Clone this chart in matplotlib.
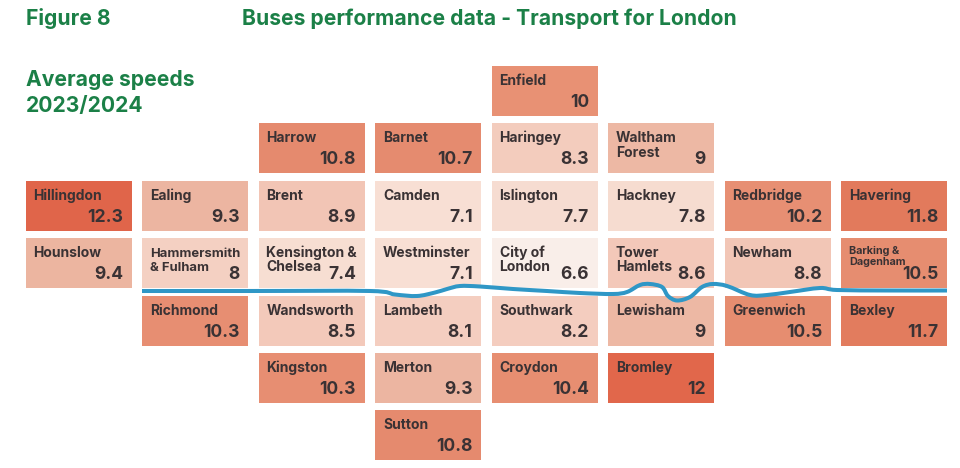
# -*- coding: utf-8 -*-
"""Tile map of average bus speeds by London borough, 2023/2024"""

import matplotlib
matplotlib.use('Agg')
import matplotlib.pyplot as plt
from matplotlib.colors import LinearSegmentedColormap, Normalize
from matplotlib.patches import PathPatch, Rectangle
from matplotlib.path import Path

plt.rcParams['font.family'] = ['Inter', 'DejaVu Sans']

# ============================================================
# Data - one list per row of the tile grid, None = empty tile
# ============================================================
row_0_names = [None, None, None, None, 'Enfield', None, None, None]
row_1_names = [None, None, 'Harrow', 'Barnet', 'Haringey', 'Waltham\nForest', None, None]
row_2_names = ['Hillingdon', 'Ealing', 'Brent', 'Camden', 'Islington', 'Hackney', 'Redbridge', 'Havering']
row_3_names = ['Hounslow', 'Hammersmith\n& Fulham', 'Kensington &\nChelsea', 'Westminster',
               'City of\nLondon', 'Tower\nHamlets', 'Newham', 'Barking &\nDagenham']
row_4_names = [None, 'Richmond', 'Wandsworth', 'Lambeth', 'Southwark', 'Lewisham', 'Greenwich', 'Bexley']
row_5_names = [None, None, 'Kingston', 'Merton', 'Croydon', 'Bromley', None, None]
row_6_names = [None, None, None, 'Sutton', None, None, None, None]

row_0_speeds = [None, None, None, None, 10, None, None, None]
row_1_speeds = [None, None, 10.8, 10.7, 8.3, 9, None, None]
row_2_speeds = [12.3, 9.3, 8.9, 7.1, 7.7, 7.8, 10.2, 11.8]
row_3_speeds = [9.4, 8, 7.4, 7.1, 6.6, 8.6, 8.8, 10.5]
row_4_speeds = [None, 10.3, 8.5, 8.1, 8.2, 9, 10.5, 11.7]
row_5_speeds = [None, None, 10.3, 9.3, 10.4, 12, None, None]
row_6_speeds = [None, None, None, 10.8, None, None, None, None]

all_names = [row_0_names, row_1_names, row_2_names, row_3_names, row_4_names, row_5_names, row_6_names]
all_speeds = [row_0_speeds, row_1_speeds, row_2_speeds, row_3_speeds, row_4_speeds, row_5_speeds, row_6_speeds]

# Thames
river_x = [142, 250, 370, 395, 417, 435, 447, 460, 480, 513, 547, 580, 613, 627, 640, 650,
           662, 668, 677, 690, 702, 713, 727, 750, 767, 790, 820, 837, 890, 947]
river_y = [291, 291, 291, 294.5, 296, 292.5, 289, 286, 286.5, 289, 291, 293, 294, 292, 285, 284,
           287, 296, 300.5, 297, 287, 284, 286, 295, 295, 292, 288, 290, 290.5, 290.5]

# ============================================================
# Styles and layout (in picture pixels)
# ============================================================
GREEN = '#1b8047'
DARK = '#3a3234'
RIVER = '#2f97c6'
speed_stops = [(6.6, '#f9eee9'), (7.1, '#f8dfd4'), (7.8, '#f6dcd0'), (8.0, '#f4cfc1'), (8.9, '#f2c5b5'),
               (9.0, '#edb7a3'), (9.4, '#ecb5a0'), (10.0, '#e89174'), (10.8, '#e58a6e'),
               (11.8, '#e27b5d'), (12.0, '#e1674b'), (12.3, '#e0654a')]

tile_w = 106
tile_h = 50
x_step = 116.5
y_step = 57.4
x_start = 25.5
y_start = 66

norm = Normalize(speed_stops[0][0], speed_stops[-1][0])
cmap = LinearSegmentedColormap.from_list('speed', [(norm(v), c) for v, c in speed_stops])

fig = plt.figure(figsize=(9.6, 4.68), dpi=100)
ax = fig.add_axes([0, 0, 1, 1])
ax.set_xlim(0, 960)
ax.set_ylim(468, 0)
ax.axis('off')

# ============================================================
# Tiles
# ============================================================
for r, (names, speeds) in enumerate(zip(all_names, all_speeds)):
    for c, (name, speed) in enumerate(zip(names, speeds)):
        if name is None:
            continue
        x0 = x_start + c * x_step
        y0 = y_start + r * y_step
        ax.add_patch(Rectangle((x0, y0), tile_w, tile_h, facecolor=cmap(norm(speed)),
                               edgecolor='none', zorder=1))
        small = name.startswith('Barking')
        size = 7.8 if small else 10.0
        if name.startswith('Hammersmith'):
            size = 9.4
        for i, line in enumerate(name.split('\n')):
            if small:
                y_line = y0 + 16 + i * 11
            else:
                y_line = y0 + 19 + i * 14.2
            ax.text(x0 + 8, y_line, line, color=DARK, fontsize=size,
                    fontweight='bold', ha='left', va='baseline', zorder=3)
        ax.text(x0 + tile_w - 8.5, y0 + 41, f'{speed:g}', color=DARK, fontsize=12.6,
                fontweight='bold', ha='right', va='baseline', zorder=3)

# ============================================================
# River, smoothed with Catmull-Rom segments
# ============================================================
verts = [(river_x[0], river_y[0])]
codes = [Path.MOVETO]
n = len(river_x)
for i in range(n - 1):
    p0 = (river_x[max(i - 1, 0)], river_y[max(i - 1, 0)])
    p1 = (river_x[i], river_y[i])
    p2 = (river_x[i + 1], river_y[i + 1])
    p3 = (river_x[min(i + 2, n - 1)], river_y[min(i + 2, n - 1)])
    verts.append((p1[0] + (p2[0] - p0[0]) / 6, p1[1] + (p2[1] - p0[1]) / 6))
    verts.append((p2[0] - (p3[0] - p1[0]) / 6, p2[1] - (p3[1] - p1[1]) / 6))
    verts.append(p2)
    codes += [Path.CURVE4, Path.CURVE4, Path.CURVE4]
ax.add_patch(PathPatch(Path(verts, codes), facecolor='none', edgecolor=RIVER,
                       linewidth=2.9, capstyle='butt', joinstyle='round', zorder=2))

# ============================================================
# Titles
# ============================================================
ax.text(25.5, 25, 'Figure 8', color=GREEN, fontsize=15.2, fontweight='bold', va='baseline')
ax.text(242, 25, 'Buses performance data - Transport for London', color=GREEN,
        fontsize=15.2, fontweight='bold', va='baseline')
ax.text(25.5, 86, 'Average speeds', color=GREEN, fontsize=15.2, fontweight='bold', va='baseline')
ax.text(25.5, 111.7, '2023/2024', color=GREEN, fontsize=15.2, fontweight='bold', va='baseline')

plt.savefig('out.png', dpi=100)
